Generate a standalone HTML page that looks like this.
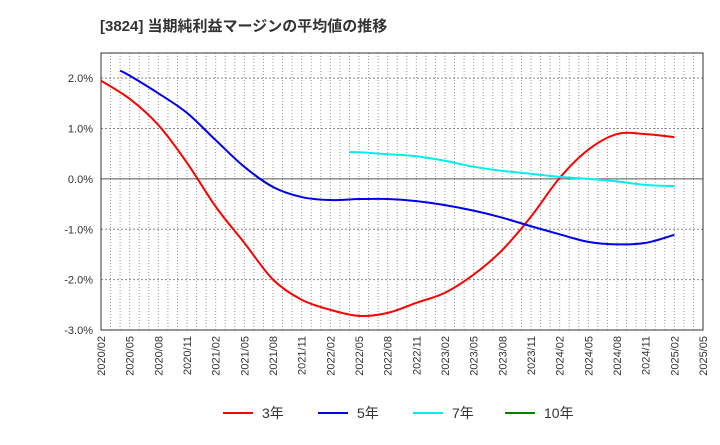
<!DOCTYPE html>
<html><head><meta charset="utf-8"><style>
body{margin:0;background:#fff;font-family:"Liberation Sans","Noto Sans CJK JP",sans-serif;}
</style></head><body>
<svg id="chart" width="720" height="440" xmlns="http://www.w3.org/2000/svg">
<text x="100" y="31" font-size="15" font-weight="bold" fill="#333" font-family="Liberation Sans, Noto Sans CJK JP, sans-serif">[3824]  当期純利益マージンの平均値の推移</text>
<g id="grid"></g><g id="axes"></g><g id="series"></g><g id="legend"></g>
</svg>
<script>
const tickLabels = ["2020/02","2020/05","2020/08","2020/11","2021/02","2021/05","2021/08","2021/11","2022/02","2022/05","2022/08","2022/11","2023/02","2023/05","2023/08","2023/11","2024/02","2024/05","2024/08","2024/11","2025/02","2025/05"];
const yTicks = [2,1,0,-1,-2,-3];
// month offsets from 2020/02
const m3 = [0,3,6,9,12,15,18,21,24,27,30,33,36,39,42,45,48,51,54,57,60];
const v3 = [1.95,1.59,1.07,0.32,-0.55,-1.27,-2.0,-2.4,-2.6,-2.72,-2.66,-2.46,-2.26,-1.9,-1.41,-0.75,0.02,0.58,0.89,0.89,0.83];
const m5 = [2,3,6,9,12,15,18,21,24,27,30,33,36,39,42,45,48,51,54,57,60];
const v5 = [2.15,2.05,1.7,1.31,0.77,0.24,-0.16,-0.36,-0.42,-0.40,-0.40,-0.44,-0.52,-0.63,-0.77,-0.94,-1.1,-1.25,-1.3,-1.27,-1.11];
const m7 = [26,27,30,33,36,39,42,45,48,51,54,57,60];
const v7 = [0.53,0.53,0.49,0.45,0.36,0.24,0.16,0.1,0.04,0.0,-0.05,-0.12,-0.14];
const m10 = [];
const v10 = [];

const NS="http://www.w3.org/2000/svg";
const X0=101,X1=703,Y0=53,Y1=330;
const xs=m=>X0+(X1-X0)*m/63;
const ys=v=>Y0+(2.5-v)/5.5*(Y1-Y0);
function mk(t,p,a){const e=document.createElementNS(NS,t);for(const k in a)e.setAttribute(k,a[k]);p.appendChild(e);return e;}
const grid=document.getElementById('grid'),axes=document.getElementById('axes'),ser=document.getElementById('series'),leg=document.getElementById('legend');
for(let m=1;m<63;m++){
  const l=mk('line',grid,{x1:xs(m),x2:xs(m),y1:Y0,y2:Y1,stroke:'#999','stroke-dasharray':'1,2','stroke-width':1});
  
  
}
yTicks.forEach(v=>{
  if(v>-3){const l=mk('line',grid,{x1:X0,x2:X1,y1:ys(v),y2:ys(v),stroke:v===0?'#555':'#888','stroke-dasharray':v===0?'':'2,2','stroke-width':1});
  
  }
  const t=mk('text',axes,{x:X0-8,y:ys(v)+4,'text-anchor':'end','font-size':11,fill:'#333'});
  t.textContent=v.toFixed(1)+'%';
  
  
});
const fr=mk('rect',axes,{x:X0,y:Y0,width:X1-X0,height:Y1-Y0,fill:'none',stroke:'#333','stroke-width':1});


tickLabels.forEach((s,i)=>{
  const x=xs(i*3),y=Y1+6;
  const t=mk('text',axes,{x:x+4,y:y,transform:`rotate(-90 ${x+4} ${y})`,'text-anchor':'end','font-size':11,fill:'#333'});
  t.textContent=s;
  
  
});
function path(ms,vs){
  const p=ms.map((m,i)=>[xs(m),ys(vs[i])]);
  if(!p.length)return '';
  let d=`M${p[0][0]},${p[0][1]}`;
  for(let i=0;i<p.length-1;i++){
    const a=p[Math.max(0,i-1)],b=p[i],c=p[i+1],e=p[Math.min(p.length-1,i+2)];
    d+=`C${b[0]+(c[0]-a[0])/6},${b[1]+(c[1]-a[1])/6} ${c[0]-(e[0]-b[0])/6},${c[1]-(e[1]-b[1])/6} ${c[0]},${c[1]}`;
  }
  return d;
}
const S=[[m3,v3,'#ff0000','3年','series-3yr'],[m5,v5,'#0000ee','5年','series-5yr'],[m7,v7,'#00eeee','7年','series-7yr'],[m10,v10,'#008000','10年','series-10yr']];
const lx=[223,318,413,505];
S.forEach((s,i)=>{
  if(s[0].length){const p=mk('path',ser,{d:path(s[0],s[1]),fill:'none',stroke:s[2],'stroke-width':2});
  
  }
  const l=mk('line',leg,{x1:lx[i],x2:lx[i]+30,y1:413,y2:413,stroke:s[2],'stroke-width':2});
  
  
  const t=mk('text',leg,{x:lx[i]+39,y:418,'font-size':14,fill:'#333'});
  t.textContent=s[3];
  
  
});
</script>
</body></html>
